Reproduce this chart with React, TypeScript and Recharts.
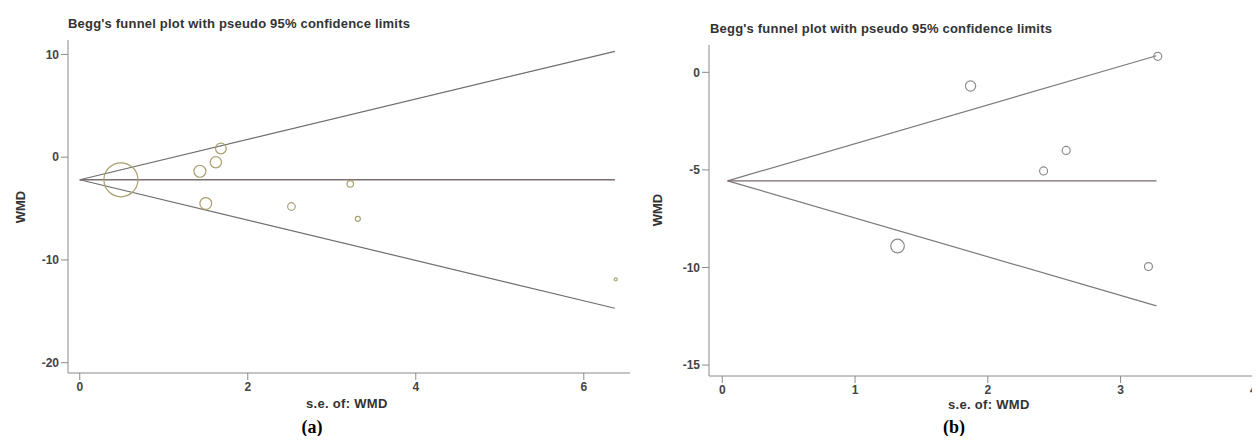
import React from "react";
import { ComposedChart, Line, Scatter, XAxis, YAxis, ZAxis } from "recharts";

// panel (a)
const studiesA = [
  { se: 0.49, wmd: -2.2, w: 100 },
  { se: 1.43, wmd: -1.37, w: 12.5 },
  { se: 1.62, wmd: -0.5, w: 11 },
  { se: 1.68, wmd: 0.85, w: 10 },
  { se: 1.5, wmd: -4.5, w: 12 },
  { se: 2.52, wmd: -4.8, w: 5 },
  { se: 3.22, wmd: -2.6, w: 3.6 },
  { se: 3.31, wmd: -6.0, w: 2.2 },
  { se: 6.38, wmd: -11.9, w: 0.8 },
];
const seLimitsA = [0, 6.37];
const pooledA = [-2.2, -2.2];
const upperA = [-2.2, 10.3];
const lowerA = [-2.2, -14.7];
const xTicksA = [0, 2, 4, 6];
const yTicksA = [-20, -10, 0, 10];

// panel (b)
const studiesB = [
  { se: 1.87, wmd: -0.7, w: 9 },
  { se: 1.32, wmd: -8.9, w: 16 },
  { se: 2.59, wmd: -4.0, w: 5.5 },
  { se: 2.42, wmd: -5.05, w: 5.5 },
  { se: 3.21, wmd: -9.95, w: 5.5 },
  { se: 3.28, wmd: 0.82, w: 5.5 },
];
const seLimitsB = [0.04, 3.27];
const pooledB = [-5.56, -5.56];
const upperB = [-5.56, 0.85];
const lowerB = [-5.56, -11.97];
const xTicksB = [0, 1, 2, 3, 4];
const yTicksB = [-15, -10, -5, 0];

const toLine = (se: number[], v: number[]) => se.map((s, i) => ({ se: s, wmd: v[i] }));

const tick = { fill: "#444", fontSize: 12, fontFamily: "Liberation Sans, Arial", fontWeight: 700 };
const axisLine = { stroke: "#8a8a8a" };

function Ring(props: any) {
  const { cx, cy, size, ringColor } = props;
  if (cx == null || cy == null) return null;
  const r = Math.sqrt((size ?? 40) / Math.PI);
  return <circle cx={cx} cy={cy} r={r} fill="none" stroke={ringColor} strokeWidth={1.2} />;
}

function Funnel(p: {
  studies: any[];
  seLimits: number[];
  pooled: number[];
  upper: number[];
  lower: number[];
  xDomain: [number, number];
  yDomain: [number, number];
  xTicks: number[];
  yTicks: number[];
  width: number;
  margin: any;
  ringColor: string;
  lineColor: string;
  pooledColor: string;
}) {
  return (
    <ComposedChart width={p.width} height={444} margin={p.margin} style={{ overflow: "visible" }}>
      <XAxis
        type="number"
        dataKey="se"
        domain={p.xDomain}
        ticks={p.xTicks}
        interval={0}
        allowDataOverflow
        tick={tick}
        axisLine={axisLine}
        tickLine={axisLine}
        tickSize={7}
        height={30}
      />
      <YAxis
        type="number"
        dataKey="wmd"
        domain={p.yDomain}
        ticks={p.yTicks}
        interval={0}
        allowDataOverflow
        tick={tick}
        axisLine={axisLine}
        tickLine={axisLine}
        tickSize={7}
        width={40}
      />
      <ZAxis type="number" dataKey="w" domain={[0, 100]} range={[0, 908]} />
      <Line data={toLine(p.seLimits, p.upper)} dataKey="wmd" stroke={p.lineColor} strokeWidth={1.2} dot={false} isAnimationActive={false} />
      <Line data={toLine(p.seLimits, p.lower)} dataKey="wmd" stroke={p.lineColor} strokeWidth={1.2} dot={false} isAnimationActive={false} />
      <Line data={toLine(p.seLimits, p.pooled)} dataKey="wmd" stroke={p.pooledColor} strokeWidth={1.4} dot={false} isAnimationActive={false} />
      <Scatter data={p.studies} shape={<Ring ringColor={p.ringColor} />} isAnimationActive={false} />
    </ComposedChart>
  );
}

const txt: React.CSSProperties = {
  position: "absolute",
  fontFamily: "Liberation Sans, Arial, sans-serif",
  color: "#333",
  whiteSpace: "nowrap",
  lineHeight: 1,
};

const title: React.CSSProperties = { ...txt, fontSize: 13, fontWeight: 700, letterSpacing: 0.2 };
const seLabel: React.CSSProperties = { ...txt, fontSize: 13, fontWeight: 700, letterSpacing: 0.3 };
const yLabel: React.CSSProperties = { ...txt, fontSize: 13, fontWeight: 700, transform: "translate(-50%, -50%) rotate(-90deg)" };
const panel: React.CSSProperties = {
  ...txt,
  fontSize: 18,
  fontWeight: 700,
  fontFamily: "Liberation Serif, Times New Roman, serif",
  color: "#000",
  transform: "translate(-50%, -50%)",
};

export default function App() {
  return (
    <div style={{ position: "relative", width: 1260, height: 444, margin: -8, overflow: "hidden", background: "#fff" }}>
      <div style={{ position: "absolute", left: 633, top: 0, width: 627, height: 4, background: "#e6e6e6" }} />
      <div style={{ position: "absolute", left: 0, top: 0 }}>
        <Funnel
          studies={studiesA}
          seLimits={seLimitsA}
          pooled={pooledA}
          upper={upperA}
          lower={lowerA}
          xDomain={[-0.14, 6.55]}
          yDomain={[-21, 11.4]}
          xTicks={xTicksA}
          yTicks={yTicksA}
          width={640}
          margin={{ top: 40, right: 10, bottom: 41, left: 28 }}
          ringColor="#a8a070"
          lineColor="#6e6e6e"
          pooledColor="#7a7070"
        />
      </div>
      <div style={{ position: "absolute", left: 640, top: 0 }}>
        <Funnel
          studies={studiesB}
          seLimits={seLimitsB}
          pooled={pooledB}
          upper={upperB}
          lower={lowerB}
          xDomain={[-0.1, 4.05]}
          yDomain={[-15.56, 1.4]}
          xTicks={xTicksB}
          yTicks={yTicksB}
          width={620}
          margin={{ top: 45, right: 0, bottom: 38, left: 29 }}
          ringColor="#8c8c8c"
          lineColor="#7a7a7a"
          pooledColor="#7a6a6a"
        />
      </div>
      <div style={{ ...title, left: 68, top: 17 }}>Begg's funnel plot with pseudo 95% confidence limits</div>
      <div style={{ ...title, left: 710, top: 22 }}>Begg's funnel plot with pseudo 95% confidence limits</div>
      <div style={{ ...seLabel, left: 306, top: 397 }}>s.e. of: WMD</div>
      <div style={{ ...seLabel, left: 948, top: 398 }}>s.e. of: WMD</div>
      <div style={{ ...yLabel, left: 20, top: 207 }}>WMD</div>
      <div style={{ ...yLabel, left: 657, top: 210 }}>WMD</div>
      <div style={{ ...panel, left: 312, top: 427 }}>(a)</div>
      <div style={{ ...panel, left: 954, top: 427 }}>(b)</div>
    </div>
  );
}
